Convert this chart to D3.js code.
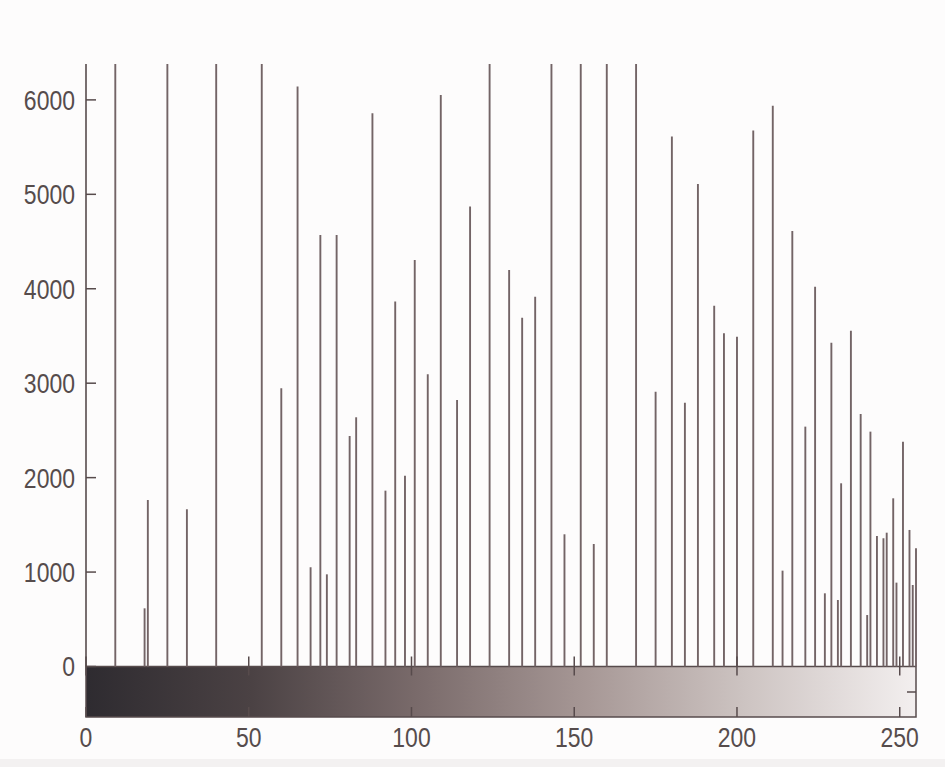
<!DOCTYPE html>
<html>
<head>
<meta charset="utf-8">
<script src="https://cdn.jsdelivr.net/npm/d3@7"></script>
<style>
	body { margin: 0; background: #fdfcfc; }
	svg text { font-family: "Liberation Sans", Arial, sans-serif; fill: #564c4c; }
</style>
</head>
<body>
<svg id="chart" width="945" height="767"></svg>
<script>
// grey levels that actually hold pixels, and how many
var bins = [9, 18, 19, 25, 31, 40, 54, 60, 65, 69, 72, 74, 77, 81, 83, 88, 92, 95, 98, 101,
	105, 109, 114, 118, 124, 130, 134, 138, 143, 147, 152, 156, 160, 169, 175, 180, 184, 188,
	193, 196, 200, 205, 211, 214, 217, 221, 224, 227, 229, 231, 232, 235, 238, 240, 241, 243,
	245, 246, 248, 249, 251, 253, 254, 255];
var counts = [8900, 616, 1763, 9800, 1665, 8200, 7600, 2946, 6141, 1051, 4570, 976, 4570, 2441, 2639, 5859, 1862, 3864, 2021, 4305,
	3095, 6053, 2822, 4870, 9400, 4199, 3694, 3916, 8700, 1400, 9100, 1297, 8400, 7900, 2910, 5611, 2794, 5110,
	3821, 3529, 3493, 5675, 5939, 1015, 4612, 2540, 4022, 775, 3429, 704, 1940, 3556, 2674, 545, 2487, 1382,
	1358, 1417, 1781, 888, 2381, 1446, 863, 1252];
var yTicks = [0, 1000, 2000, 3000, 4000, 5000, 6000];
var xTicks = [0, 50, 100, 150, 200, 250];
var barColors = ["#2e2b30", "#4b4244", "#7a6b6b", "#a69795", "#cec5c3", "#f3efef"];

var svg = d3.select("#chart");
var x = d3.scaleLinear().domain([0, 255]).range([86, 916]);
var y = d3.scaleLinear().domain([0, 6380]).range([666.5, 64]);
var barTop = 666.5, barBottom = 717;
var ink = "#574b4c";

// faint strip at the very bottom of the photo
svg.append("rect").attr("x", 0).attr("y", 759).attr("width", 945).attr("height", 8).attr("fill", "#f3f1f1");

svg.append("defs").append("clipPath").attr("id", "plotClip")
	.append("rect").attr("x", 80).attr("y", 64).attr("width", 845).attr("height", 610);

// colour bar underneath
var grad = svg.select("defs").append("linearGradient").attr("id", "greyBar");
grad.selectAll("stop")
	.data(barColors).enter()
	.append("stop")
	.attr("offset", function(d, i){ return (i / (barColors.length - 1)) * 100 + "%"; })
	.attr("stop-color", function(d){ return d; });

svg.append("rect")
	.attr("x", x(0)).attr("y", barTop)
	.attr("width", x(255) - x(0)).attr("height", barBottom - barTop)
	.attr("fill", "url(#greyBar)")
	.attr("stroke", ink).attr("stroke-width", 1.5);

// stems
svg.append("g").attr("clip-path", "url(#plotClip)")
	.selectAll("line")
	.data(bins).enter()
	.append("line")
	.attr("x1", function(d){ return x(d); })
	.attr("x2", function(d){ return x(d); })
	.attr("y1", y(0))
	.attr("y2", function(d, i){ return y(counts[i]); })
	.attr("stroke", "#736466")
	.attr("stroke-width", 1.9);

// y axis line + ticks
svg.append("line")
	.attr("x1", x(0)).attr("x2", x(0)).attr("y1", y.range()[1]).attr("y2", barTop)
	.attr("stroke", ink).attr("stroke-width", 1.6);

svg.append("g").selectAll("line")
	.data(yTicks).enter()
	.append("line")
	.attr("x1", x(0)).attr("x2", x(0) + 10)
	.attr("y1", function(d){ return y(d); })
	.attr("y2", function(d){ return y(d); })
	.attr("stroke", ink).attr("stroke-width", 1.5);

// labels are a bit taller than they are wide in the original
svg.append("g").selectAll("text")
	.data(yTicks).enter()
	.append("text")
	.attr("transform", function(d){ return "translate(75," + y(d) + ") scale(1,1.2)"; })
	.attr("dy", "0.36em")
	.attr("text-anchor", "end")
	.attr("font-size", 23)
	.text(function(d){ return d; });

// x ticks: main axes (up), bar top (down), bar bottom (up)
var tickG = svg.append("g").attr("stroke", ink).attr("stroke-width", 1.5);
xTicks.forEach(function(t){
	tickG.append("line").attr("x1", x(t)).attr("x2", x(t)).attr("y1", barTop).attr("y2", barTop - 10);
	tickG.append("line").attr("x1", x(t)).attr("x2", x(t)).attr("y1", barTop).attr("y2", barTop + 9);
	tickG.append("line").attr("x1", x(t)).attr("x2", x(t)).attr("y1", barBottom).attr("y2", barBottom - 10);
});
tickG.append("line").attr("x1", x(255)).attr("x2", x(255) - 9).attr("y1", 692).attr("y2", 692);

svg.append("g").selectAll("text")
	.data(xTicks).enter()
	.append("text")
	.attr("transform", function(d){ return "translate(" + x(d) + ",737) scale(1,1.2)"; })
	.attr("dy", "0.36em")
	.attr("text-anchor", "middle")
	.attr("font-size", 23)
	.text(function(d){ return d; });
</script>
</body>
</html>
